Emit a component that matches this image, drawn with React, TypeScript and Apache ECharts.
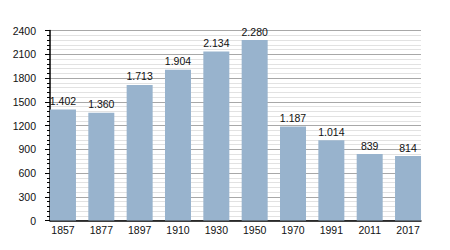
import React, { useEffect, useRef } from "react";
import * as echarts from "echarts";

const years = ["1857", "1877", "1897", "1910", "1930", "1950", "1970", "1991", "2011", "2017"];
const population = [1402, 1360, 1713, 1904, 2134, 2280, 1187, 1014, 839, 814];
const yMin = 0;
const yMax = 2400;
const yStep = 300;

const fmt = (v: number) => String(v).replace(/\B(?=(\d{3})+(?!\d))/g, ".");

export default function App() {
  const ref = useRef<HTMLDivElement>(null);
  useEffect(() => {
    if (!ref.current) return;
    const chart = echarts.init(ref.current, null, { renderer: "svg" });
    const font = "'Liberation Sans', Arial, sans-serif";
    chart.setOption({
      animation: false,
      backgroundColor: "#ffffff",
      textStyle: { fontFamily: font },
      grid: [
        { left: 50, top: 30.5, width: 371, height: 190 },
        { left: 43.8, top: 30.5, width: 383.4, height: 190 },
      ],
      xAxis: [
        {
          type: "category",
          gridIndex: 0,
          data: years,
          axisLine: { show: true, lineStyle: { color: "#000", width: 1.5 } },
          axisTick: { show: false },
          axisLabel: { show: false },
          splitLine: { show: false },
        },
        {
          type: "category",
          gridIndex: 1,
          data: years,
          axisLine: { show: false },
          axisTick: { show: false },
          axisLabel: { show: true, color: "#111", fontSize: 10.5, fontFamily: font, margin: 4 },
          splitLine: { show: false },
        },
      ],
      yAxis: [
        {
          type: "value",
          gridIndex: 0,
          min: yMin,
          max: yMax,
          interval: yStep,
          axisLine: { show: true, lineStyle: { color: "#000", width: 1.5 } },
          axisTick: { show: true, length: 5, lineStyle: { color: "#000" } },
          minorTick: { show: true, splitNumber: 5, length: 3, lineStyle: { color: "#000" } },
          axisLabel: {
            color: "#111",
            fontSize: 10.5,
            fontFamily: font,
            margin: 14,
            formatter: (v: number) => String(v),
          },
          splitLine: { show: true, lineStyle: { color: "#a8a8a8", width: 1 } },
          minorSplitLine: { show: true, lineStyle: { color: "#e2e2e2", width: 1 } },
        },
        {
          type: "value",
          gridIndex: 1,
          min: yMin,
          max: yMax,
          interval: yStep,
          show: false,
          splitLine: { show: false },
        },
      ],
      series: [
        {
          type: "bar",
          xAxisIndex: 1,
          yAxisIndex: 1,
          data: population,
          barWidth: 26,
          itemStyle: { color: "#98b3cd" },
          label: {
            show: true,
            position: "top",
            distance: 3,
            color: "#111",
            fontSize: 10.5,
            fontFamily: font,
            formatter: (p: any) => fmt(p.value),
          },
        },
      ],
    });
    return () => chart.dispose();
  }, []);
  return (
    <div
      ref={ref}
      style={{ position: "fixed", left: 0, top: 0, width: 450, height: 250 }}
    />
  );
}
